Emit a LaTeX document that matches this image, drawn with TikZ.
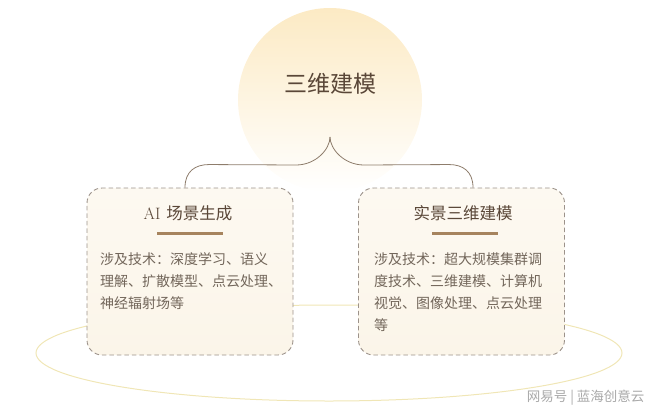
\documentclass[tikz,border=0pt]{standalone}
\usepackage{fontspec}
\newfontfamily\cjk{Noto Sans CJK SC}
\usepackage{tikz}
\usetikzlibrary{calc,shapes,positioning}

\definecolor{sunTop}{HTML}{FCEAC4}
\definecolor{titleText}{HTML}{5A4738}
\definecolor{bodyText}{HTML}{72665A}
\definecolor{cardLine}{HTML}{9C928A}
\definecolor{cardTop}{HTML}{FDF9F1}
\definecolor{cardBot}{HTML}{FBF5E9}
\definecolor{barColor}{HTML}{A6845E}
\definecolor{braceColor}{HTML}{8E7D6C}
\definecolor{rimColor}{HTML}{F0E6B6}
\definecolor{wmColor}{HTML}{A9A9A9}

\tikzset{
	sun/.style={circle, minimum size=184pt, inner sep=0pt, top color=sunTop, middle color=sunTop!30!white, bottom color=white},
	maintitle/.style={font=\cjk\fontsize{23}{26}\selectfont, text=titleText},
	card/.style={draw=cardLine, line width=0.9pt, dash pattern=on 4.5pt off 3pt, rounded corners=15pt,
		top color=cardTop, bottom color=cardBot, minimum width=206pt, minimum height=167pt},
	cardtitle/.style={font=\cjk\fontsize{16.5}{20}\selectfont, text=titleText},
	bar/.style={fill=barColor, minimum width=66pt, minimum height=3pt, inner sep=0pt},
	body/.style={font=\cjk\fontsize{14}{22}\selectfont, text=bodyText, align=left, inner sep=0pt, anchor=north west},
	brace/.style={draw=braceColor, line width=0.8pt},
	wmark/.style={font=\cjk\fontsize{13.5}{16}\selectfont, text=wmColor}
}

\begin{document}
\begin{tikzpicture}[x=1pt,y=-1pt]
	\useasboundingbox (0,0) rectangle (660,417);
	
	% glow and main title
	\node[sun] (sun) at (330,100) {};
	\node[maintitle] (title) at (330,84) {三维建模};
	\coordinate (cusp) at (330,137);
	
	% base ring
	\draw[rimColor, line width=1pt] (329,353) ellipse [x radius=293, y radius=48];
	
	% the two cards
	\node[card] (ai) at (190,271.5) {};
	\node[card] (rs) at (461.5,271.5) {};
	
	\node[cardtitle] (aiT) at (188,213) {{\rmfamily AI}\hspace{6pt}场景生成};
	\node[cardtitle] (rsT) at (463,213) {实景三维建模};
	\node[bar] (aiB) at (190,233) {};
	\node[bar] (rsB) at (464.5,233) {};
	
	\node[body] (aiX) at (100,252) {涉及技术：深度学习、语义\\理解、扩散模型、点云处理、\\神经辐射场等};
	\node[body] (rsX) at (374,252) {涉及技术：超大规模集群调\\度技术、三维建模、计算机\\视觉、图像处理、点云处理\\等};
	
	% brace
	\draw[brace] ($(ai.north)+(-5,0)$) .. controls +(0,-16) and +(-14,0) .. ++(24,-23) -- (296,165) .. controls +(20,0) and +(0,12) .. (cusp);
	\draw[brace] ($(rs.north)+(11.5,0)$) .. controls +(0,-16) and +(14,0) .. ++(-24,-23) -- (364,165) .. controls +(-20,0) and +(0,12) .. (cusp);
	
	\node[wmark, anchor=east] (wm) at (648,398) {网易号\ |\ 蓝海创意云};
\end{tikzpicture}
\end{document}
